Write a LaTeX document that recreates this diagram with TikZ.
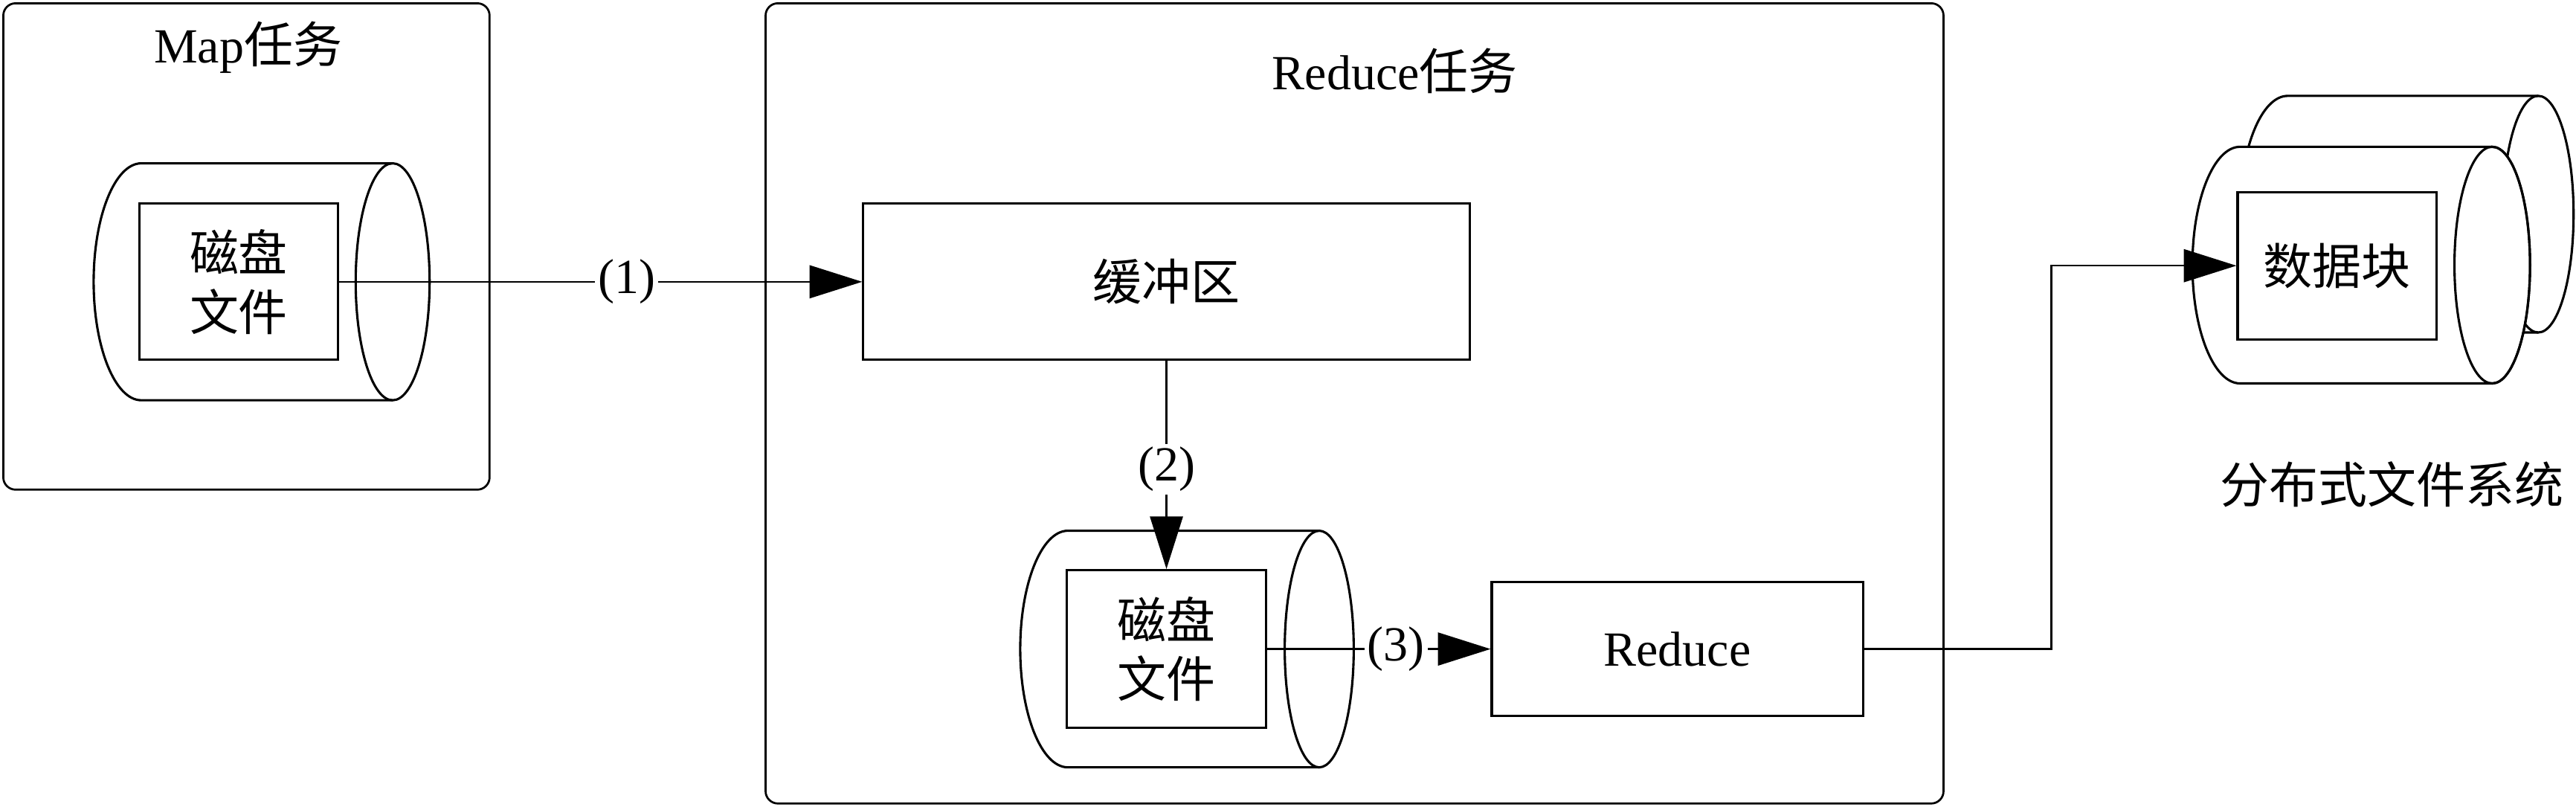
\documentclass[tikz,border=0pt]{standalone}
\usepackage{fontspec}
\usepackage{tikz}
\usetikzlibrary{arrows.meta}
\setmainfont{Liberation Serif}
\newfontfamily\cjk{Noto Sans CJK SC}

\begin{document}
\begin{tikzpicture}
    \tikzset{
    every node/.style={font=\fontsize{17}{20.5}\selectfont},
    frm/.style={draw,line width=0.7pt,rounded corners=0.15cm},
    shp/.style={draw,line width=0.8pt},
    box/.style={draw,line width=0.8pt,inner sep=0pt,align=center},
    lnk/.style={line width=0.6pt,-{Triangle[length=0.64cm,width=0.4cm]}},
    lbl/.style={fill=white,inner sep=1pt},
    }
    \useasboundingbox (0,0) rectangle (31.36,9.814);

    % Map task
    \draw[frm] (0.04,3.854) rectangle (5.96,9.774);
    \node (mapt) at (3.02,9.234) {Map{\cjk 任务}};
    \draw[shp] (4.78,7.826) -- (1.72,7.826) arc[start angle=90,end angle=270,x radius=0.58,y radius=1.442] -- (4.78,4.942);
    \draw[shp] (4.78,6.384) ellipse [x radius=0.45,y radius=1.442];
    \node[box,minimum width=2.41cm,minimum height=1.9cm] (f1) at (2.906,6.384) {\cjk 磁盘\\\cjk 文件};

    % Reduce task
    \draw[frm] (9.32,0.034) rectangle (23.66,9.774);
    \node (redt) at (16.98,8.954) {Reduce{\cjk 任务}};
    \node[box,minimum width=7.38cm,minimum height=1.9cm] (buf) at (14.2,6.384) {\cjk 缓冲区};
    \draw[shp] (16.06,3.354) -- (13.0,3.354) arc[start angle=90,end angle=270,x radius=0.58,y radius=1.44] -- (16.06,0.474);
    \draw[shp] (16.06,1.914) ellipse [x radius=0.42,y radius=1.44];
    \node[box,minimum width=2.42cm,minimum height=1.92cm] (f2) at (14.2,1.914) {\cjk 磁盘\\\cjk 文件};
    \node[box,minimum width=4.52cm,minimum height=1.628cm] (red) at (20.42,1.914) {Reduce};

    % distributed file system
    \draw[shp] (30.9,8.647) -- (27.85,8.647) arc[start angle=90,end angle=270,x radius=0.58,y radius=1.44] -- (30.9,5.767);
    \draw[shp] (30.9,7.207) ellipse [x radius=0.43,y radius=1.44];
    \draw[shp,fill=white] (30.34,8.027) -- (27.27,8.027) arc[start angle=90,end angle=270,x radius=0.58,y radius=1.44] -- (30.34,5.147) arc[start angle=-90,end angle=90,x radius=0.46,y radius=1.44] -- cycle;
    \draw[shp] (30.34,6.587) ellipse [x radius=0.46,y radius=1.44];
    \node[box,minimum width=2.42cm,minimum height=1.79cm] (blk) at (28.45,6.58) {\cjk 数据块};
    \node (dfs) at (29.12,3.914) {\cjk 分布式文件系统};

    \draw[lnk] (f1.east) -- node[lbl,pos=0.55] {(1)} (buf.west);
    \draw[lnk] (buf.south) -- node[lbl,pos=0.52] {(2)} (f2.north);
    \draw[lnk] (f2.east) -- node[lbl,pos=0.577] {(3)} (red.west);
    \draw[lnk] (red.east) -- ++(2.28,0) |- (blk.west);
\end{tikzpicture}
\end{document}
